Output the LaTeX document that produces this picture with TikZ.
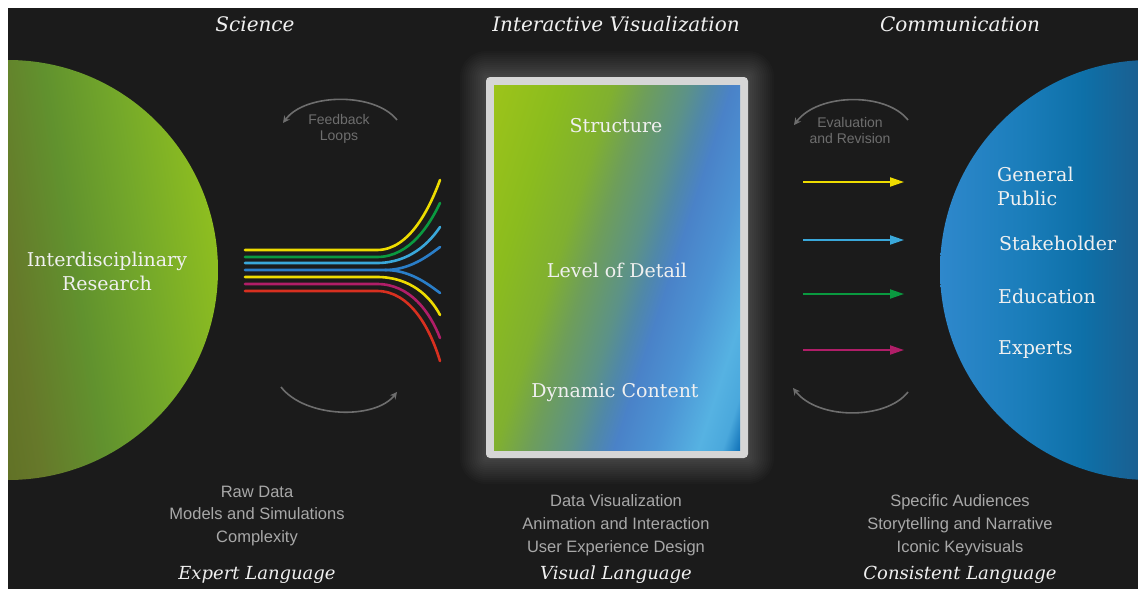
\documentclass[tikz,border=0pt]{standalone}
\usepackage{fontspec}
\setmainfont{DejaVu Serif}
\newfontfamily\listfont{Liberation Sans}
\usetikzlibrary{arrows.meta}

% palette
\definecolor{bg}{HTML}{1B1B1B}
\definecolor{sciA}{HTML}{5A6820}
\definecolor{sciB}{HTML}{66782A}
\definecolor{sciC}{HTML}{61922E}
\definecolor{sciD}{HTML}{74A82A}
\definecolor{sciE}{HTML}{8EBE20}
\definecolor{comA}{HTML}{2F88CC}
\definecolor{comB}{HTML}{1A7DBA}
\definecolor{comC}{HTML}{0E70A8}
\definecolor{comD}{HTML}{1D5C8C}
\definecolor{visA}{HTML}{9DC41A}
\definecolor{visB}{HTML}{8BBC1E}
\definecolor{visC}{HTML}{80B030}
\definecolor{visD}{HTML}{6E9E5A}
\definecolor{visE}{HTML}{5C9288}
\definecolor{visF}{HTML}{5088A8}
\definecolor{visG}{HTML}{4A82C8}
\definecolor{visH}{HTML}{4C94D4}
\definecolor{visI}{HTML}{56B2E2}
\definecolor{visJ}{HTML}{4AA8DC}
\definecolor{visK}{HTML}{0A6CB4}
\definecolor{frameGray}{HTML}{D6D6D6}
\definecolor{arcGray}{HTML}{6E6E6E}
\definecolor{listGray}{HTML}{A8A8A8}
\definecolor{fYellow}{HTML}{EEDC00}
\definecolor{fGreen}{HTML}{0A9A40}
\definecolor{fLight}{HTML}{3AA8DA}
\definecolor{fBlue}{HTML}{2A7EC8}
\definecolor{fMagenta}{HTML}{B01E68}
\definecolor{fRed}{HTML}{D83020}

% fills
\pgfdeclarehorizontalshading{sciencefill}{100bp}{color(0bp)=(sciA); color(40bp)=(sciA); color(50bp)=(sciB); color(58bp)=(sciC); color(66bp)=(sciD); color(75bp)=(sciE); color(100bp)=(sciE)}
\pgfdeclarehorizontalshading{commfill}{100bp}{color(0bp)=(comA); color(25bp)=(comA); color(35bp)=(comB); color(42bp)=(comC); color(50bp)=(comD); color(100bp)=(comD)}
\pgfdeclarehorizontalshading{visfill}{100bp}{color(0bp)=(visA); color(31bp)=(visA); color(38bp)=(visB); color(43.5bp)=(visC); color(47bp)=(visD); color(51.3bp)=(visE); color(53.5bp)=(visF); color(55.8bp)=(visG); color(60bp)=(visH); color(64.5bp)=(visI); color(67bp)=(visJ); color(69bp)=(visK); color(100bp)=(visK)}

\tikzset{
  heading/.style={text=white!94!black, font=\itshape\fontsize{20}{22}\selectfont, inner sep=0pt},
  footing/.style={text=white!94!black, font=\itshape\fontsize{18}{20}\selectfont, inner sep=0pt},
  circlelabel/.style={text=white!94!black, font=\fontsize{19}{24}\selectfont, inner sep=0pt, align=center},
  boxlabel/.style={text=white!94!black, font=\fontsize{19}{20}\selectfont, inner sep=0pt},
  audience/.style={text=white!94!black, font=\fontsize{19}{24}\selectfont, inner sep=0pt, anchor=west, align=left},
  listtext/.style={text=listGray, font=\listfont\fontsize{16.5}{22.8}\selectfont, inner sep=0pt, align=center},
  arclabel/.style={text=arcGray, font=\listfont\fontsize{14}{16}\selectfont, inner sep=0pt, align=center},
  fiber/.style={line width=2.6pt, line cap=round},
  flow/.style={line width=2pt, -{Triangle[length=14pt,width=9pt]}},
  loop/.style={draw=arcGray, line width=1.6pt, -{Stealth[length=7pt,width=7pt]}}
}

\begin{document}
\begin{tikzpicture}[x=1pt,y=-1pt]
\useasboundingbox (0,0) rectangle (1138,589);
\fill[white] (0,0) rectangle (1138,589);
\fill[bg] (8,8) rectangle (1138,589);

% the two hemispheres
\begin{scope}
  \clip (8,8) rectangle (1138,589);
  \shade[shading=sciencefill, shading angle=9] (8,270) circle[radius=210];
  \shade[shading=commfill] (1150,270) circle[radius=210];
\end{scope}

% glow around the screen
\foreach \g in {2,4,...,26}
  \fill[white, opacity=0.015, rounded corners=\g pt] (486-\g,77-\g) rectangle (748+\g,458+\g);

% the screen: frame, then a tilted gradient clipped to the panel
\fill[frameGray, rounded corners=4pt] (486,77) rectangle (748,458);
\begin{scope}
  \clip (494,85) rectangle (740,450);
  \shade[shading=visfill, transform canvas={rotate around={-18:(617,267.5)}}] (387,37.5) rectangle (847,497.5);
\end{scope}

% headings
\node[heading] (tsci) at (255,24) {Science};
\node[heading] (tvis) at (616,24) {Interactive Visualization};
\node[heading] (tcom) at (960,24) {Communication};
\node[footing] (bsci) at (257,575) {Expert Language};
\node[footing] (bvis) at (616,575) {Visual Language};
\node[footing] (bcom) at (960,575) {Consistent Language};

% circle and screen labels
\node[circlelabel] (research) at (107,271) {Interdisciplinary\\Research};
\node[boxlabel] (structure) at (616,126) {Structure};
\node[boxlabel] (detail) at (617,270) {Level of Detail};
\node[boxlabel] (dynamic) at (615,393) {Dynamic Content};
\node[audience] (public) at (997,186) {General\\Public};
\node[audience] (stake) at (999,243) {Stakeholder};
\node[audience] (edu) at (998,296) {Education};
\node[audience] (experts) at (998,350) {Experts};

% lists under each column
\node[listtext] (lsci) at (257,516) {Raw Data\\Models and Simulations\\Complexity};
\node[listtext] (lvis) at (616,525) {Data Visualization\\Animation and Interaction\\User Experience Design};
\node[listtext] (lcom) at (960,525) {Specific Audiences\\Storytelling and Narrative\\Iconic Keyvisuals};

% loop arrows
\node[arclabel] (feedback) at (339,129) {Feedback\\Loops};
\node[arclabel] (evaluation) at (850,130) {Evaluation\\and Revision};
\coordinate (fa1) at (397,120); \coordinate (fa2) at (283,123);
\coordinate (fb1) at (281,387); \coordinate (fb2) at (397,392);
\coordinate (ea1) at (908,120); \coordinate (ea2) at (794,125);
\coordinate (eb1) at (908,392); \coordinate (eb2) at (793,388);
\draw[loop] (fa1) .. controls (375,92) and (305,93) .. (fa2);
\draw[loop] (fb1) .. controls (305,418) and (375,420) .. (fb2);
\draw[loop] (ea1) .. controls (886,92) and (818,93) .. (ea2);
\draw[loop] (eb1) .. controls (886,420) and (818,420) .. (eb2);

% fanning strands
\draw[fiber, fYellow] (245,250) -- (377,250) .. controls (410,250) and (430,207) .. (440,180);
\draw[fiber, fGreen] (245,257) -- (377,257) .. controls (410,257) and (430,224) .. (440,203);
\draw[fiber, fLight] (245,263) -- (377,263) .. controls (410,263) and (430,242) .. (440,227);
\draw[fiber, fBlue] (245,270) -- (385,270) .. controls (410,270) and (428,256) .. (440,247);
\draw[fiber, fBlue] (385,270) .. controls (410,270) and (428,284) .. (440,293);
\draw[fiber, fYellow] (245,277) -- (377,277) .. controls (410,277) and (430,296) .. (440,315);
\draw[fiber, fMagenta] (245,284) -- (377,284) .. controls (410,284) and (430,312) .. (440,338);
\draw[fiber, fRed] (245,291) -- (377,291) .. controls (410,291) and (430,328) .. (440,361);

% arrows toward the audiences
\coordinate (y1) at (803,182); \coordinate (y2) at (904,182);
\coordinate (b1) at (803,240); \coordinate (b2) at (904,240);
\coordinate (g1) at (803,294); \coordinate (g2) at (904,294);
\coordinate (m1) at (803,350); \coordinate (m2) at (904,350);
\draw[flow, fYellow] (y1) -- (y2);
\draw[flow, fLight] (b1) -- (b2);
\draw[flow, fGreen] (g1) -- (g2);
\draw[flow, fMagenta] (m1) -- (m2);
\end{tikzpicture}
\end{document}
